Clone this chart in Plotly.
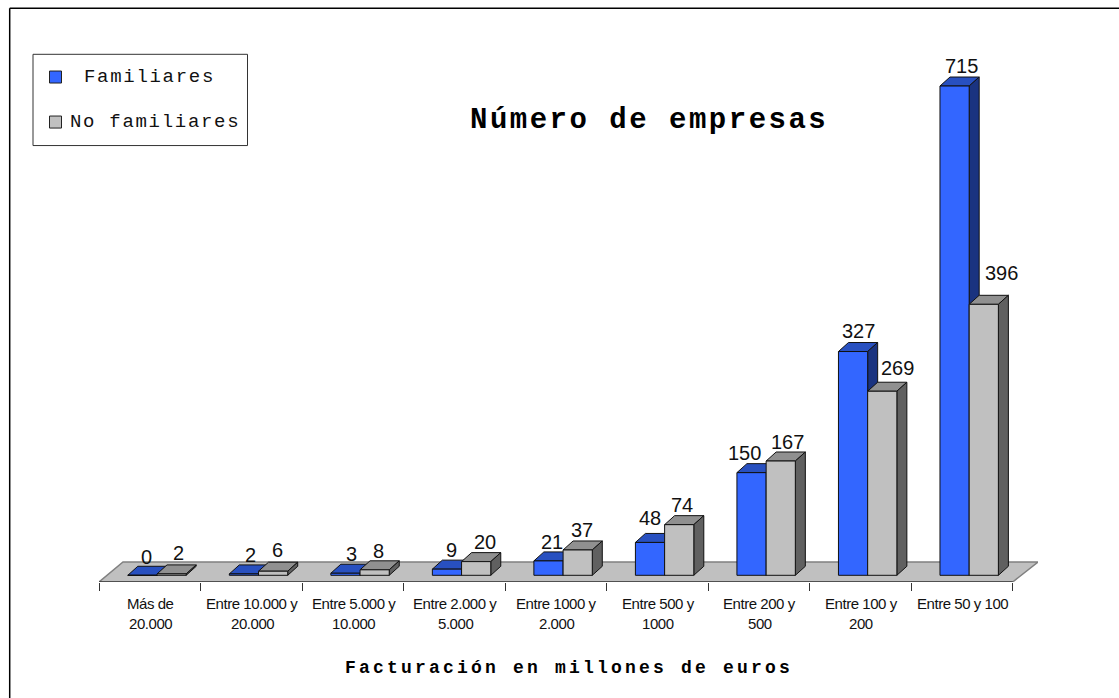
import plotly.graph_objects as go

# ---- data ----
categories = ["Más de<br>20.000", "Entre 10.000 y<br>20.000", "Entre 5.000 y<br>10.000",
              "Entre 2.000 y<br>5.000", "Entre 1000 y<br>2.000", "Entre 500 y<br>1000",
              "Entre 200 y<br>500", "Entre 100 y<br>200", "Entre 50 y 100"]
familiares = [0, 2, 3, 9, 21, 48, 150, 327, 715]
no_familiares = [2, 6, 8, 20, 37, 74, 167, 269, 396]
name_a = "Familiares"
name_b = "No familiares"
title_text = "Número de empresas"
xtitle_text = "Facturación en millones de euros"

# ---- value-label nudges, in pixels, as placed in the reference ----
dx_a = [4.5, 7, 6.5, 4.7, 3.5, 0, -7.5, 5, 7]
dy_a = [18, 18.6, 19, 18.8, 18.6, 24.2, 19.4, 20.3, 20]
dx_b = [6.5, 4.7, 3.5, 9, 4.5, 2.7, 6.5, 15, 17.5]
dy_b = [20.6, 20.9, 18.5, 19.3, 19.7, 19.4, 18.8, 23, 31]

# ---- layout geometry ----
W, H = 1119, 698
L, R, T, B = 99.0, 1038.0, 40.0, 581.7
CAT_PX = (1012.7 - 99.0) / 9
Y_PX = 489 / 715
BASE_PX = 575.0
x_range = [-0.5, -0.5 + (R - L) / CAT_PX]
y_range = [-(B - BASE_PX) / Y_PX, (BASE_PX - T) / Y_PX]
BAR = 29.2 / CAT_PX
GAP_LEFT = 28.8 / CAT_PX
DX = 10 / CAT_PX
DY = 9 / Y_PX


def px(x):
    return (x - L) / (R - L)


def py(y):
    return 1 - (y - T) / (B - T)


def spaced(text, sp):
    return f'<span style="letter-spacing:{sp}px">{text}</span>'


def faces(values, shift):
    """Polygons of the front, top and side of every bar of one series."""
    fx, fy, tx, ty, sx, sy = [], [], [], [], [], []
    for i, v in enumerate(values):
        x0 = i - 0.5 + GAP_LEFT + shift
        x1 = x0 + BAR
        fx += [x0, x1, x1, x0, x0, None]
        fy += [0, 0, v, v, 0, None]
        tx += [x0, x1, x1 + DX, x0 + DX, x0, None]
        ty += [v, v, v + DY, v + DY, v, None]
        sx += [x1, x1 + DX, x1 + DX, x1, x1, None]
        sy += [0, DY, v + DY, v, 0, None]
    return (fx, fy), (tx, ty), (sx, sy)


def poly(xy, color, name):
    return go.Scatter(x=xy[0], y=xy[1], mode="lines", fill="toself", fillcolor=color,
                      line=dict(color="#111111", width=1), name=name, showlegend=False,
                      hoverinfo="skip", cliponaxis=False)


fig = go.Figure()

# floor
floor_back = 19.4
fig.add_trace(go.Scatter(
    x=[-0.5, 8.5, 8.5 + 25.3 / CAT_PX, -0.5 + 24 / CAT_PX, -0.5],
    y=[y_range[0], y_range[0], floor_back, floor_back, y_range[0]],
    mode="lines", fill="toself", fillcolor="#C0C0C0",
    line=dict(color="#808080", width=1.5), showlegend=False, hoverinfo="skip", cliponaxis=False))
fig.add_trace(go.Scatter(x=[-0.5, 8.5], y=[y_range[0], y_range[0]], mode="lines",
                         line=dict(color="#111111", width=1), showlegend=False,
                         hoverinfo="skip", cliponaxis=False))

# bars
for vals, shift, cf, ct, cs, nm in [
    (familiares, 0, "#3366FF", "#2850C0", "#1A3380", name_a),
    (no_familiares, BAR, "#C0C0C0", "#909090", "#606060", name_b),
]:
    front, top, side = faces(vals, shift)
    fig.add_trace(poly(top, ct, nm))
    fig.add_trace(poly(side, cs, nm))
    fig.add_trace(poly(front, cf, nm))

ann = []
# value labels
for i in range(9):
    ca = i - 0.5 + GAP_LEFT + BAR / 2
    cb = ca + BAR
    for x, v, dx, dy in [(ca, familiares[i], dx_a[i], dy_a[i]), (cb, no_familiares[i], dx_b[i], dy_b[i])]:
        ann.append(dict(x=x, y=v, xref="x", yref="y", text=str(v), showarrow=False,
                        xshift=dx, yshift=dy, xanchor="center", yanchor="middle",
                        font=dict(family="Liberation Sans", size=20, color="#111111")))
# category labels (reference line pitch is wider than plotly's own <br>)
for i, c in enumerate(categories):
    for j, part in enumerate(c.split("<br>")):
        ann.append(dict(x=px(L + CAT_PX * (i + 0.5) + 1), y=py(603 + 20 * j), xref="paper", yref="paper",
                        text=spaced(part, -0.45), showarrow=False, xanchor="center", yanchor="middle",
                        font=dict(family="Liberation Sans", size=15, color="#111111")))
# titles
ann.append(dict(x=px(649), y=py(120), xref="paper", yref="paper", showarrow=False,
                text="<b>" + spaced(title_text, 2.5) + "</b>", xanchor="center", yanchor="middle",
                font=dict(family="Liberation Mono", size=29, color="#000000")))
ann.append(dict(x=px(568.5), y=py(668), xref="paper", yref="paper", showarrow=False,
                text="<b>" + spaced(xtitle_text, 3.2) + "</b>", xanchor="center", yanchor="middle",
                font=dict(family="Liberation Mono", size=18, color="#000000")))
# legend text
ann.append(dict(x=px(82), y=py(77), xref="paper", yref="paper", showarrow=False, text=spaced(name_a, 1.7),
                xanchor="left", yanchor="middle", font=dict(family="Liberation Mono", size=19, color="#111111")))
ann.append(dict(x=px(68), y=py(122), xref="paper", yref="paper", showarrow=False, text=spaced(name_b, 1.7),
                xanchor="left", yanchor="middle", font=dict(family="Liberation Mono", size=19, color="#111111")))

shapes = [
    dict(type="line", xref="paper", yref="paper", x0=px(9.7), x1=px(1119), y0=py(8.3), y1=py(8.3),
         line=dict(color="#000000", width=1.5), layer="below"),
    dict(type="line", xref="paper", yref="paper", x0=px(9.7), x1=px(9.7), y0=py(8.3), y1=py(698),
         line=dict(color="#000000", width=1.5), layer="below"),
    dict(type="rect", xref="paper", yref="paper", x0=px(33), x1=px(247.5), y0=py(54.3), y1=py(145.5),
         line=dict(color="#333333", width=1), fillcolor="#FFFFFF"),
    dict(type="rect", xref="paper", yref="paper", x0=px(49.5), x1=px(61.5), y0=py(71), y1=py(83),
         line=dict(color="#222222", width=1), fillcolor="#3366FF"),
    dict(type="rect", xref="paper", yref="paper", x0=px(49.5), x1=px(61.5), y0=py(116), y1=py(128),
         line=dict(color="#222222", width=1), fillcolor="#C0C0C0"),
]

fig.update_layout(
    width=W, height=H, autosize=False,
    margin=dict(l=L, r=W - R, t=T, b=H - B, pad=0),
    paper_bgcolor="#FFFFFF", plot_bgcolor="#FFFFFF",
    showlegend=False, annotations=ann, shapes=shapes,
    xaxis=dict(range=x_range, showgrid=False, zeroline=False, showline=False,
               tickmode="array", tickvals=[i - 0.5 for i in range(10)], ticks="outside",
               ticklen=8, tickwidth=1, tickcolor="#333333", showticklabels=False, fixedrange=True),
    yaxis=dict(range=y_range, visible=False, showgrid=False, zeroline=False, fixedrange=True),
)

fig.write_html("out.html", config={"displayModeBar": False},
               post_script="document.body.style.margin='0';")
